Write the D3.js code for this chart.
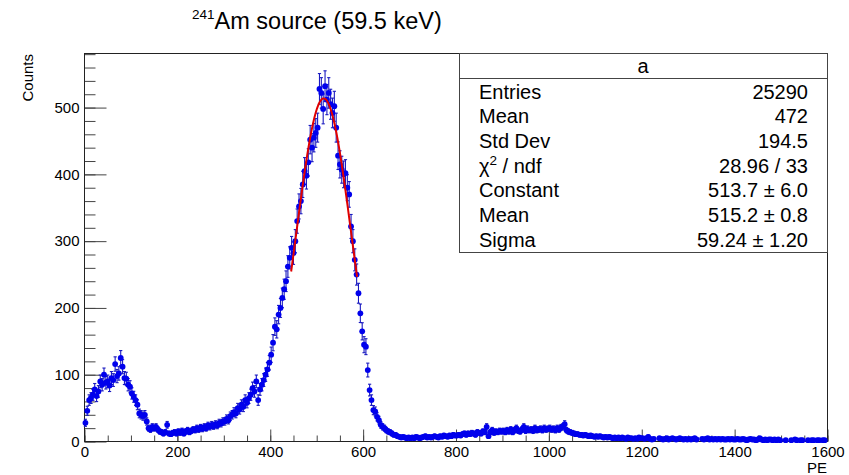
<!doctype html>
<html>
<head>
<meta charset="utf-8">
<script src="https://d3js.org/d3.v7.min.js"></script>
<style>
  body {margin: 0; background: #fff;}
  text {font-family: "Liberation Sans", Arial, sans-serif; fill: #000;}
</style>
</head>
<body>
<svg width="849" height="475"></svg>
<script>
// histogram: 400 bins of 4 PE from 0 to 1600
const binWidth = 4;
// 0 - 400 PE
const countsLow = [
  28,46,62,65,70,78,68,75,90,85,100,88,90,84,95,92,116,98,102,125,112,95,94,85,82,
  72,67,62,55,42,40,38,40,30,20,18,22,20,22,18,15,14,12,14,25,12,11,13,14,12,
  15,13,16,12,15,17,14,16,18,17,20,18,21,19,22,20,24,22,25,23,26,24,28,27,30,
  30,34,32,38,40,44,42,50,48,55,52,62,58,65,70,80,75,90,62,78,85,92,100,108,118
];
// 400 - 700 PE
const countsPeak = [
  130,148,172,168,190,200,215,228,240,262,275,290,282,300,330,352,360,385,405,398,418,452,440,455,462,
  470,528,522,498,532,512,522,505,492,502,470,428,415,407,400,402,380,370,322,300,272,250,222,192,165,
  145,142,107,77,62,47,45,37,32,25,22,20,17,15,14,12,10,10,8,7,6,7,6,5,6
];
// 700 - 1600 PE
const countsTail = [
  5,6,5,7,6,5,6,7,8,6,7,6,7,8,7,6,8,7,9,8,7,9,8,10,9,
  9,10,9,11,12,10,12,11,13,12,10,14,13,12,15,14,22,8,14,17,13,15,14,16,15,
  16,14,17,15,18,14,17,20,16,15,18,22,16,19,17,18,16,20,17,18,19,17,20,18,19,
  20,18,19,17,20,18,21,22,26,17,15,14,13,12,11,11,10,10,9,10,9,8,9,8,7,
  8,7,8,7,6,7,6,7,6,5,6,5,6,5,6,5,4,6,5,5,4,5,4,6,5,
  5,4,5,7,4,3,4,0,0,5,4,3,4,5,3,4,5,4,3,4,5,4,3,4,3,
  4,3,4,5,3,0,0,4,3,4,5,3,4,3,4,3,4,3,4,3,3,4,3,4,3,
  3,4,3,3,4,3,2,3,4,3,3,2,3,5,3,2,3,2,3,3,2,3,2,3,2,
  0,0,2,0,0,2,0,3,2,0,2,2,0,0,2,0,2,2,0,2,2,0,2,2,0
];
const counts = countsLow.concat(countsPeak, countsTail);

// gaussian fit (constant, mean, sigma) and its range
const fitPars = [513.7, 515.2, 59.24];
const fitRange = [445, 587];

const xTicks = [0, 200, 400, 600, 800, 1000, 1200, 1400, 1600];
const yTicks = [0, 100, 200, 300, 400, 500];

const statLabels = ["Entries", "Mean", "Std Dev", "chi", "Constant", "Mean", "Sigma"];
const statValues = ["25290", "472", "194.5", "28.96 / 33", "513.7 \u00b1 6.0", "515.2 \u00b1 0.8", "59.24 \u00b1 1.20"];

const svg = d3.select("svg");
const x = d3.scaleLinear().domain([0, 1600]).range([84.5, 827.5]);
const y = d3.scaleLinear().domain([0, 581]).range([441.5, 53.5]);

// title
const title = svg.append("text").attr("x", 192).attr("y", 29);
title.append("tspan").attr("font-size", 13.5).attr("dy", -10).text("241");
title.append("tspan").attr("font-size", 23.5).attr("dy", 10).text("Am source (59.5 keV)");

// axes
const xMinor = d3.range(0, 1601, 50);
const yMinor = d3.range(0, 581, 20);
svg.append("g").attr("transform", "translate(0,441.5)")
  .call(d3.axisBottom(x).tickValues(xMinor).tickSize(-6).tickFormat(""))
  .call(g => g.select(".domain").remove());
svg.append("g").attr("transform", "translate(0,441.5)")
  .call(d3.axisBottom(x).tickValues(xTicks).tickSize(-12).tickPadding(5).tickFormat(d3.format("d")))
  .call(g => g.select(".domain").remove())
  .attr("font-size", 15).attr("font-family", "Liberation Sans, Arial, sans-serif");
svg.append("g").attr("transform", "translate(84.5,0)")
  .call(d3.axisLeft(y).tickValues(yMinor).tickSize(-11).tickFormat(""))
  .call(g => g.select(".domain").remove());
svg.append("g").attr("transform", "translate(84.5,0)")
  .call(d3.axisLeft(y).tickValues(yTicks).tickSize(-22).tickPadding(5).tickFormat(d3.format("d")))
  .call(g => g.select(".domain").remove())
  .attr("font-size", 15).attr("font-family", "Liberation Sans, Arial, sans-serif");
svg.selectAll(".tick line").attr("stroke", "#444");

// frame
svg.append("rect").attr("x", 84.5).attr("y", 53.5).attr("width", 743).attr("height", 388)
  .attr("fill", "none").attr("stroke", "#222");

// axis titles
svg.append("text").attr("x", 827).attr("y", 473).attr("text-anchor", "end")
  .attr("font-size", 15).text("PE");
svg.append("text").attr("transform", "translate(33,54) rotate(-90)").attr("text-anchor", "end")
  .attr("font-size", 15).text("Counts");

// data points with sqrt(N) errors
const bins = counts.map((c, i) => ({pe: (i + 0.5) * binWidth, c: c})).filter(d => d.c > 0);
const pts = svg.append("g");
pts.selectAll("line.err").data(bins).enter().append("line")
  .attr("x1", d => x(d.pe)).attr("x2", d => x(d.pe))
  .attr("y1", d => y(d.c + Math.sqrt(d.c))).attr("y2", d => y(d.c - Math.sqrt(d.c)))
  .attr("stroke", "#1a1ac0").attr("stroke-width", 1.1);
pts.selectAll("line.cap").data(bins.flatMap(d => [d.c + Math.sqrt(d.c), d.c - Math.sqrt(d.c)].map(v => ({pe: d.pe, v: v}))))
  .enter().append("line")
  .attr("x1", d => x(d.pe) - 1.6).attr("x2", d => x(d.pe) + 1.6)
  .attr("y1", d => y(d.v)).attr("y2", d => y(d.v))
  .attr("stroke", "#1a1ac0").attr("stroke-width", 1.1);
pts.selectAll("circle").data(bins).enter().append("circle")
  .attr("cx", d => x(d.pe)).attr("cy", d => y(d.c)).attr("r", 2.9)
  .attr("fill", "#0000ec");

// fit curve
const gaus = v => fitPars[0] * Math.exp(-0.5 * Math.pow((v - fitPars[1]) / fitPars[2], 2));
const fitX = d3.range(fitRange[0], fitRange[1] + 0.01, 1);
svg.append("path").datum(fitX)
  .attr("d", d3.line().x(d => x(d)).y(d => y(gaus(d))))
  .attr("fill", "none").attr("stroke", "#e00000").attr("stroke-width", 2);

// stats box
const box = svg.append("g");
box.append("rect").attr("x", 459.5).attr("y", 53.5).attr("width", 368).attr("height", 199)
  .attr("fill", "#fff").attr("stroke", "#444");
box.append("line").attr("x1", 459.5).attr("x2", 827.5).attr("y1", 78.5).attr("y2", 78.5).attr("stroke", "#444");
box.append("text").attr("x", 643).attr("y", 73).attr("text-anchor", "middle").attr("font-size", 20).text("a");
statLabels.forEach((lab, i) => {
  const yy = 98.5 + i * 24.7;
  const t = box.append("text").attr("x", 479).attr("y", yy).attr("font-size", 20);
  if (lab === "chi") {
    t.append("tspan").text("\u03c7");
    t.append("tspan").attr("font-size", 13.5).attr("dy", -8).text("2");
    t.append("tspan").attr("dy", 8).text(" / ndf");
  } else {
    t.text(lab);
  }
  box.append("text").attr("x", 808).attr("y", yy).attr("text-anchor", "end")
    .attr("font-size", 20).text(statValues[i]);
});
</script>
</body>
</html>
